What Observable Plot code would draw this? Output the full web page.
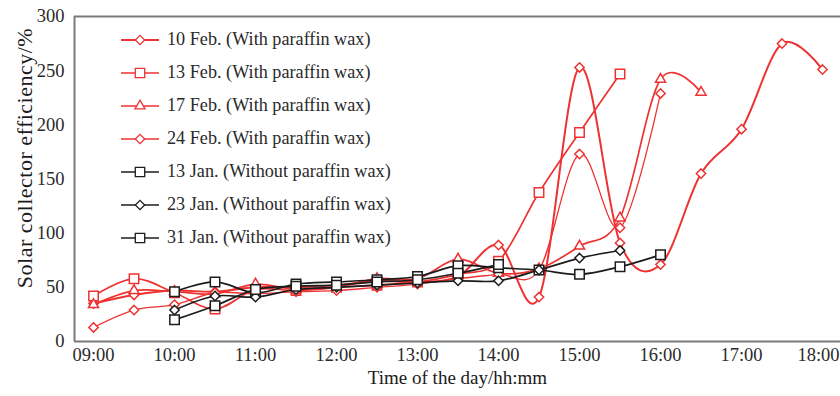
<!DOCTYPE html>
<html>
<head>
<meta charset="utf-8">
<script src="https://cdn.jsdelivr.net/npm/d3@7"></script>
<script src="https://cdn.jsdelivr.net/npm/@observablehq/plot@0.6"></script>
<style>
  body { margin: 0; background: #fff; }
  #chart { position: relative; width: 840px; height: 396px; font-family: "Liberation Serif", "Times New Roman", serif; }
  #legend { position: absolute; left: 121px; top: 23px; }
  .row { display: flex; align-items: center; height: 33px; font-size: 18.2px; color: #2a2a2a; white-space: nowrap; }
  .row svg { margin-right: 6px; overflow: visible; }
</style>
</head>
<body>
<div id="chart"><div id="legend"></div></div>
<script>
// Half-hourly readings, 09:00 to 18:00
const times = ["09:00","09:30","10:00","10:30","11:00","11:30","12:00","12:30","13:00","13:30",
               "14:00","14:30","15:00","15:30","16:00","16:30","17:00","17:30","18:00"];
const xTicks = ["09:00","10:00","11:00","12:00","13:00","14:00","15:00","16:00","17:00","18:00"];
const yTicks = [0, 50, 100, 150, 200, 250, 300];

// Efficiency (%) per day, aligned to `times` (null = no reading)
const feb10 = [35, 43, 47, 46, 50, 50, 52, 56, 55, 60, 89, 41, 253, 91, 71, 155, 196, 275, 251];
const feb13 = [42, 58, 45, 30, 48, 47, 50, 52, 55, 62, 74, 137.5, 193, 247];
const feb17 = [34, 47, 46, 44, 53, 48, 50, 58, 58, 76, 63, 67, 88, 114, 242, 230];
const feb24 = [13, 29, 34, 45, 44, 46, 47, 50, 53, 58, 62, 66, 173, 105, 229];
const jan13 = [null, null, 46, 55, 45, 53, 55, 57, 60, 70, 68, 66, 62, 69, 80];
const jan23 = [null, null, 29, 42, 41, 48, 50, 52, 54, 56, 56, 66, 77, 84];
const jan31 = [null, null, 20, 33, 48, 51, 52, 55, 57, 63, 71];

const seriesNames = [
  "10 Feb. (With paraffin wax)",
  "13 Feb. (With paraffin wax)",
  "17 Feb. (With paraffin wax)",
  "24 Feb. (With paraffin wax)",
  "13 Jan. (Without paraffin wax)",
  "23 Jan. (Without paraffin wax)",
  "31 Jan. (Without paraffin wax)"
];
const seriesValues = [feb10, feb13, feb17, feb24, jan13, jan23, jan31];

const xLabel = "Time of the day/hh:mm";
const yLabel = "Solar collector efficiency/%";

// Styling per series
const RED = "#ee3232", BLACK = "#1c1c1c";
const styles = [
  {color: RED,   symbol: "diamond2",  r: 4.2, width: 2.0},
  {color: RED,   symbol: "square2",   r: 6.0, width: 1.7},
  {color: RED,   symbol: "triangle2", r: 4.8, width: 1.7},
  {color: RED,   symbol: "diamond2",  r: 4.2, width: 1.3},
  {color: BLACK, symbol: "square2",   r: 6.0, width: 1.7},
  {color: BLACK, symbol: "diamond2",  r: 4.2, width: 1.7},
  {color: BLACK, symbol: "square2",   r: 6.0, width: 1.7}
];

const toHours = s => { const [h, m] = s.split(":").map(Number); return h + m / 60; };
const fmt = h => String(Math.floor(h)).padStart(2, "0") + ":" + String(Math.round((h % 1) * 60)).padStart(2, "0");

const series = seriesNames.map((name, k) => ({
  name,
  ...styles[k],
  data: seriesValues[k].map((v, i) => ({t: toHours(times[i]), v})).filter(d => d.v != null)
}));

const xDomain = [8.765, 18.222];
const AXIS = "#7a7a7a";
const tickHours = xTicks.map(toHours);

const marks = [
  Plot.ruleX([xDomain[0]], {stroke: AXIS, strokeWidth: 2}),
  Plot.ruleY([0, 300], {stroke: AXIS, strokeWidth: 2}),
  // last tick label nudged left so it stays inside the page edge
  Plot.axisX({ticks: tickHours.slice(0, -1), tickFormat: fmt, tickSize: 0, tickPadding: 6, fontSize: 18.5, label: null}),
  Plot.axisX({ticks: tickHours.slice(-1), tickFormat: fmt, tickSize: 0, tickPadding: 6, fontSize: 18.5, label: null, dx: -4}),
  Plot.axisY({ticks: yTicks, tickSize: 0, tickPadding: 10, fontSize: 18.5, label: null}),
  Plot.text([xLabel], {text: d => d, frameAnchor: "bottom", dy: 42, fontSize: 19, fill: "#1a1a1a"}),
  Plot.text([yLabel], {text: d => d, frameAnchor: "left", textAnchor: "middle", dx: -50, dy: -21, rotate: -90, fontSize: 22, fill: "#1a1a1a"})
];
for (const s of series) {
  marks.push(Plot.line(s.data, {x: "t", y: "v", stroke: s.color, strokeWidth: s.width, curve: "cardinal"}));
  marks.push(Plot.dot(s.data, {x: "t", y: "v", symbol: () => s.symbol, r: s.r, stroke: s.color, strokeWidth: 1.5, fill: "white"}));
}

const chart = Plot.plot({
  width: 840,
  height: 396,
  marginLeft: 74,
  marginRight: 0,
  marginTop: 16,
  marginBottom: 55,
  style: {fontFamily: "'Liberation Serif', 'Times New Roman', serif", color: "#2a2a2a", background: "white"},
  x: {domain: xDomain},
  y: {domain: [0, 300]},
  symbol: {type: "identity"},
  marks
});
// slightly widen the vertical axis title
d3.select(chart).selectAll("text").filter(function () { return this.textContent === yLabel; })
  .style("letter-spacing", "0.5px");
document.getElementById("chart").prepend(chart);

// Legend drawn inside the plot area
const legend = d3.select("#legend");
for (const s of series) {
  const row = legend.append("div").attr("class", "row");
  const svg = row.append("svg").attr("width", 40).attr("height", 14);
  svg.append("line").attr("x1", 0).attr("x2", 38).attr("y1", 7).attr("y2", 7)
     .attr("stroke", s.color).attr("stroke-width", s.width);
  const sym = {diamond2: d3.symbolDiamond2, square2: d3.symbolSquare2, triangle2: d3.symbolTriangle2}[s.symbol];
  svg.append("path").attr("transform", "translate(19,7)")
     .attr("d", d3.symbol(sym, Math.PI * s.r * s.r)())
     .attr("fill", "white").attr("stroke", s.color).attr("stroke-width", 1.3);
  row.append("span").text(s.name);
}
</script>
</body>
</html>
